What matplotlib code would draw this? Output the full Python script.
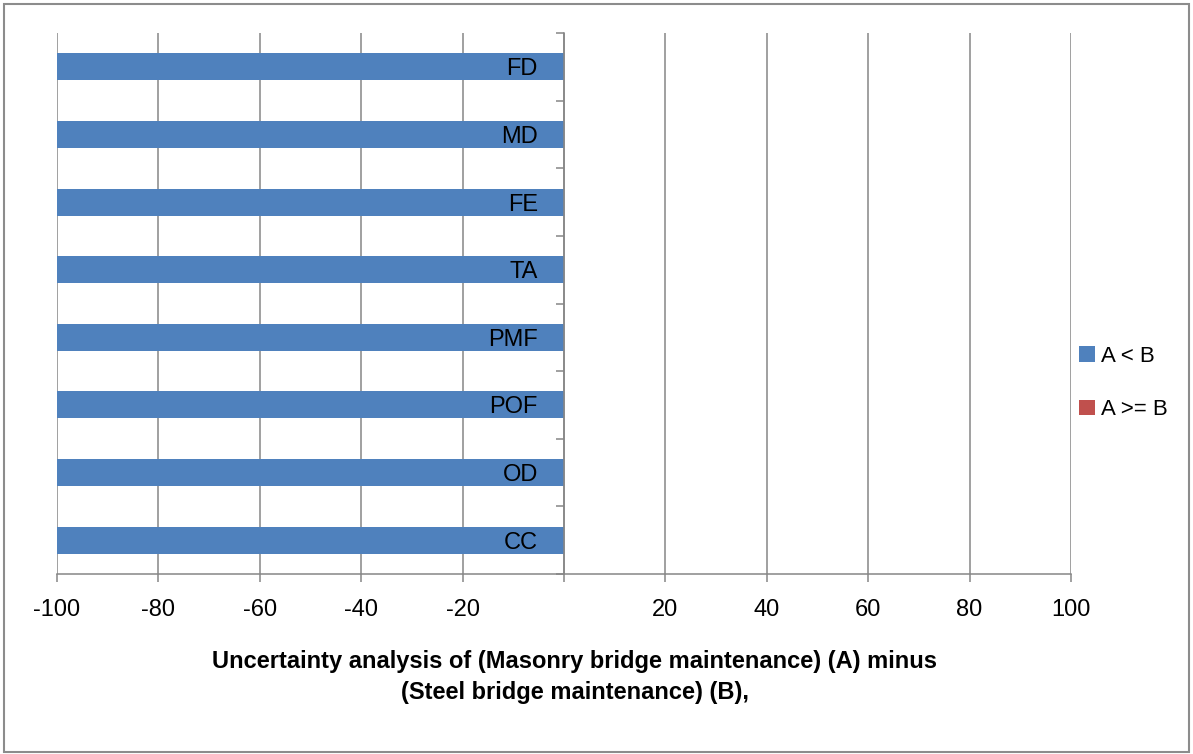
import matplotlib.pyplot as plt
from matplotlib.patches import Rectangle
from matplotlib.transforms import offset_copy
import numpy as np

plt.rcParams['font.family'] = ['Liberation Sans', 'DejaVu Sans']

# categories listed bottom to top
categories = ['CC', 'OD', 'POF', 'PMF', 'TA', 'FE', 'MD', 'FD']
a_less_b = [-100, -100, -100, -100, -100, -100, -100, -100]
a_ge_b = [0, 0, 0, 0, 0, 0, 0, 0]
xticks = [-100, -80, -60, -40, -20, 0, 20, 40, 60, 80, 100]
xlabels = ['-100', '-80', '-60', '-40', '-20', '', '20', '40', '60', '80', '100']

blue = '#4F81BD'
red = '#C0504D'
grid = '#868686'

fig = plt.figure(figsize=(11.93, 7.54), dpi=100)
fig.patches.append(Rectangle((0.003, 0.003), 0.994, 0.992, transform=fig.transFigure,
                             fill=False, edgecolor='#8c8c8c', linewidth=1.5))

ax = fig.add_axes([57 / 1193, 1 - 574 / 754, (1071 - 57) / 1193, (574 - 33) / 754])
y = np.arange(len(categories))
ax.barh(y, a_less_b, height=0.4, color=blue, label='A < B')
ax.barh(y, a_ge_b, height=0.4, left=a_less_b, color=red, label='A >= B')

ax.set_xlim(-100, 100)
ax.set_ylim(-0.5, len(categories) - 0.5)
ax.set_axisbelow(True)
ax.xaxis.grid(True, color=grid, linewidth=1.1)
ax.set_xticks(xticks)
ax.set_xticklabels(xlabels, fontsize=17)
ax.tick_params(axis='x', length=6, width=1.1, color=grid, pad=12)

# category axis sits at zero
ax.spines['left'].set_position(('data', 0))
ax.spines['left'].set_color(grid)
ax.spines['left'].set_linewidth(1.1)
ax.spines['left'].set_zorder(3)
ax.spines['bottom'].set_color(grid)
ax.spines['bottom'].set_linewidth(1.1)
ax.spines['top'].set_visible(False)
ax.spines['right'].set_visible(False)
ax.set_yticks(y)
ax.set_yticklabels([])
ax.set_yticks(np.arange(-0.5, len(categories)), minor=True)
ax.tick_params(axis='y', which='major', length=0)
ax.tick_params(axis='y', which='minor', length=6, width=1.1, color=grid)

# category names written over the bars, right next to the zero axis
label_tr = offset_copy(ax.transData, fig=fig, x=-26, y=0, units='dots')
for yi, name in zip(y, categories):
    ax.text(0, yi, name, transform=label_tr, ha='right', va='center_baseline',
            fontsize=17, zorder=5)

fig.text(575 / 1193, 1 - 677 / 754,
         'Uncertainty analysis of (Masonry bridge maintenance) (A) minus\n(Steel bridge maintenance) (B),',
         ha='center', va='center', fontsize=17, fontweight='bold', linespacing=1.4)

fig.legend(loc='center left', bbox_to_anchor=(1059 / 1193, 1 - 383 / 754), frameon=False,
           fontsize=16, handlelength=0.7, handleheight=0.7, handletextpad=0.3,
           labelspacing=1.45)

fig.savefig('out.png', dpi=100)
